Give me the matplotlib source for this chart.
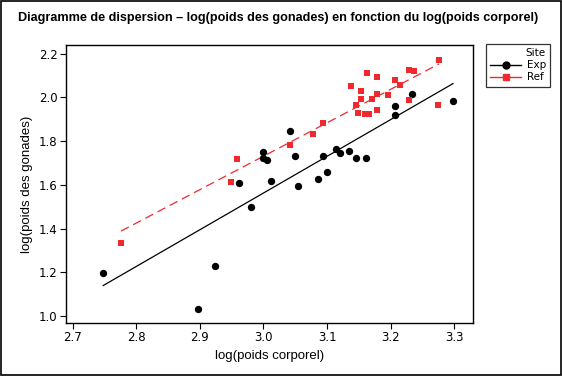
import numpy as np
import matplotlib
matplotlib.use('Agg')
import matplotlib.pyplot as plt
from matplotlib.lines import Line2D

# Site "Exp"
exp_x = [2.748, 2.897, 2.924, 2.962, 2.981, 3.000, 3.000, 3.005, 3.012, 3.042,
         3.049, 3.054, 3.086, 3.094, 3.100, 3.114, 3.121, 3.134, 3.146, 3.161,
         3.207, 3.207, 3.233, 3.298]
exp_y = [1.198, 1.032, 1.229, 1.609, 1.497, 1.749, 1.722, 1.714, 1.619, 1.847,
         1.731, 1.596, 1.627, 1.731, 1.658, 1.766, 1.745, 1.754, 1.722, 1.722,
         1.962, 1.921, 2.017, 1.985]

# Site "Ref"
ref_x = [2.776, 2.949, 2.958, 3.041, 3.078, 3.093, 3.137, 3.145, 3.148, 3.154,
         3.154, 3.160, 3.166, 3.163, 3.170, 3.179, 3.179, 3.179, 3.196, 3.206,
         3.214, 3.229, 3.237, 3.229, 3.276, 3.274]
ref_y = [1.334, 1.612, 1.717, 1.783, 1.832, 1.883, 2.051, 1.966, 1.929, 2.030,
         1.992, 1.926, 1.926, 2.112, 1.992, 2.094, 2.016, 1.943, 2.011, 2.081,
         2.056, 2.126, 2.121, 1.987, 2.172, 1.966]

x_ticks = [2.7, 2.8, 2.9, 3.0, 3.1, 3.2, 3.3]
y_ticks = [1.0, 1.2, 1.4, 1.6, 1.8, 2.0, 2.2]

red = '#ee2a2f'

fig = plt.figure(figsize=(5.62, 3.76), dpi=100)
ax = fig.add_axes([66 / 562, 1 - 323 / 376, (473 - 66) / 562, (323 - 45) / 376])

# fitted lines per site, drawn over the data range of each group
for xs, ys, col, ls in [(exp_x, exp_y, 'black', '-'), (ref_x, ref_y, red, (0, (7, 4)))]:
    b, a = np.polyfit(xs, ys, 1)
    xx = np.array([min(xs), max(xs)])
    ax.plot(xx, a + b * xx, color=col, linestyle=ls, linewidth=0.9, zorder=2)

ax.scatter(exp_x, exp_y, s=28, color='black', marker='o', linewidths=0, zorder=3)
ax.scatter(ref_x, ref_y, s=21, color=red, marker='s', linewidths=0, zorder=3)

ax.set_xlim(2.6895, 3.3294)
ax.set_ylim(0.968, 2.240)
ax.set_xticks(x_ticks)
ax.set_yticks(y_ticks)
ax.set_xticklabels([f'{v:.1f}' for v in x_ticks])
ax.set_yticklabels([f'{v:.1f}' for v in y_ticks])
ax.tick_params(direction='out', length=4, width=0.8, labelsize=8.5, pad=2)
for sp in ax.spines.values():
    sp.set_linewidth(1.0)

ax.set_xlabel('log(poids corporel)', fontsize=9.5, family='Liberation Sans', labelpad=4)
ax.set_ylabel('log(poids des gonades)', fontsize=9.5, family='Liberation Sans', labelpad=4)

fig.text(18 / 562, 1 - 18 / 376,
         'Diagramme de dispersion \u2013 log(poids des gonades) en fonction du log(poids corporel)',
         fontsize=9.1, fontweight='bold', family='Liberation Sans', va='center', ha='left')

# legend outside on the right
handles = [Line2D([], [], color='black', marker='o', markersize=5, linewidth=1),
           Line2D([], [], color=red, marker='s', markersize=4.5, linewidth=1)]
leg = fig.legend(handles, ['Exp', 'Ref'], title='Site', loc='upper left',
                 bbox_to_anchor=(486 / 562, 1 - 44 / 376), fontsize=7.5,
                 title_fontsize=7.5, frameon=True, fancybox=False, handlelength=3,
                 borderpad=0.4, labelspacing=0.2, handletextpad=0.5, borderaxespad=0)
leg.get_frame().set_edgecolor('black')
leg.get_frame().set_linewidth(0.9)
leg._legend_box.align = 'right'

# outer border around the whole figure
fig.patches.append(plt.Rectangle((0.002, 0.003), 0.996, 0.994, transform=fig.transFigure,
                                 fill=False, edgecolor='black', linewidth=1.2))

fig.savefig('out.png', dpi=100)
